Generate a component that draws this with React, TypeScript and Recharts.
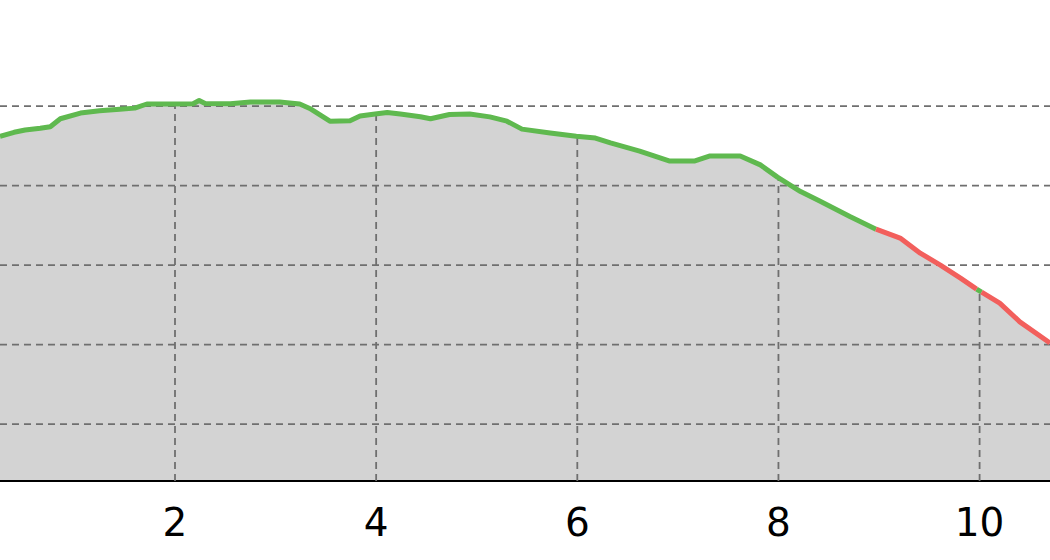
import React from 'react';
import { ComposedChart, AreaChart, LineChart, Area, Line, XAxis, YAxis, ReferenceLine } from 'recharts';

// distance along the route (km) and elevation (m)
const distance = [
  0.26, 0.4, 0.51, 0.66, 0.76, 0.86, 1.06, 1.25, 1.45, 1.6, 1.72, 2.0, 2.18, 2.24, 2.3,
  2.55, 2.75, 3.04, 3.24, 3.34, 3.54, 3.74, 3.84, 3.99, 4.11, 4.24, 4.44, 4.54, 4.73,
  4.93, 5.13, 5.3, 5.45, 5.73, 5.99, 6.18, 6.33, 6.62, 6.92, 7.17, 7.32, 7.62, 7.82,
  7.99, 8.22, 8.41, 8.71, 8.97, 9.21, 9.41, 9.61, 9.81, 9.97, 10.02, 10.2, 10.4, 10.7,
];
const elevation = [
  331.0, 333.5, 334.9, 336.0, 337.0, 342.0, 345.6, 347.0, 348.0, 348.7, 351.3, 351.3,
  351.5, 353.5, 351.6, 351.5, 352.5, 352.5, 351.3, 348.5, 340.5, 340.8, 343.7, 345.0,
  346.0, 345.0, 343.3, 342.0, 344.7, 345.0, 343.2, 340.5, 335.5, 333.0, 331.0, 329.9,
  326.8, 321.7, 315.4, 315.5, 318.6, 318.6, 313.0, 305.3, 296.2, 290.3, 280.5, 272.6,
  267.0, 257.5, 250.0, 241.8, 234.9, 233.0, 226.1, 214.3, 201.0,
];
// steep stretches drawn in red [from km, to km]
const steepRanges = [
  [8.97, 9.97],
  [10.02, 10.7],
];
const xTicks = [2, 4, 6, 8, 10];
const yTicks = [150, 200, 250, 300, 350];
const xDomain = [0.26, 10.7];
const yDomain = [114.2, 416.7];

const data = distance.map((km, i) => {
  const row: Record<string, number | null> = { km, elev: elevation[i] };
  const inside = steepRanges.some(([s, e]) => km > s && km < e);
  row.green = inside ? null : elevation[i];
  steepRanges.forEach(([s, e], j) => {
    row[`red${j}`] = km >= s && km <= e ? elevation[i] : null;
  });
  return row;
});

// elevation at any distance, for the vertical grid lines that stop at the profile
const elevAt = (x: number) => {
  for (let i = 1; i < distance.length; i++) {
    if (x <= distance[i]) {
      const t = (x - distance[i - 1]) / (distance[i] - distance[i - 1]);
      return elevation[i - 1] + t * (elevation[i] - elevation[i - 1]);
    }
  }
  return elevation[elevation.length - 1];
};

const W = 1050;
const H = 560;
const margin = { top: 0, right: 0, bottom: 0, left: 0 };
const layer: React.CSSProperties = { position: 'absolute', left: 0, top: 0 };
const gridStroke = '#6f6f6f';
const gridDash = '7 5';

const axes = (showTicks: boolean) => [
  <XAxis
    key="x"
    dataKey="km"
    type="number"
    domain={xDomain}
    allowDataOverflow
    ticks={xTicks}
    height={79}
    tickLine={false}
    tickSize={0}
    tickMargin={27}
    axisLine={showTicks ? { stroke: '#000', strokeWidth: 2 } : false}
    tick={showTicks ? { fill: '#000', fontSize: 39, fontFamily: 'DejaVu Sans' } : false}
  />,
  <YAxis key="y" hide type="number" domain={yDomain} allowDataOverflow />,
];

export default function App() {
  return (
    <div style={{ position: 'absolute', left: 0, top: 0, width: W, height: H }}>
      <div style={layer}>
        <AreaChart width={W} height={H} data={data} margin={margin}>
          {axes(true)}
          <Area
            dataKey="elev"
            type="linear"
            stroke="none"
            fill="#d3d3d3"
            fillOpacity={1}
            dot={false}
            activeDot={false}
            isAnimationActive={false}
          />
        </AreaChart>
      </div>
      <div style={layer}>
        <ComposedChart width={W} height={H} data={data} margin={margin}>
          {axes(false)}
          {yTicks.map((v) => (
            <ReferenceLine
              key={`h${v}`}
              y={v}
              stroke={gridStroke}
              strokeWidth={1.8}
              strokeDasharray={gridDash}
            />
          ))}
          {xTicks.map((v) => (
            <ReferenceLine
              key={`v${v}`}
              segment={[
                { x: v, y: yDomain[0] },
                { x: v, y: elevAt(v) },
              ]}
              stroke={gridStroke}
              strokeWidth={1.8}
              strokeDasharray={gridDash}
            />
          ))}
        </ComposedChart>
      </div>
      <div style={layer}>
        <LineChart width={W} height={H} data={data} margin={margin}>
          {axes(false)}
          <Line
            dataKey="green"
            type="linear"
            stroke="#5fb94f"
            strokeWidth={5}
            dot={false}
            activeDot={false}
            strokeLinejoin="round"
            isAnimationActive={false}
          />
          {steepRanges.map((_, j) => (
            <Line
              key={j}
              dataKey={`red${j}`}
              type="linear"
              stroke="#f25f5c"
              strokeWidth={5}
              dot={false}
              activeDot={false}
              strokeLinejoin="round"
              isAnimationActive={false}
            />
          ))}
        </LineChart>
      </div>
    </div>
  );
}
